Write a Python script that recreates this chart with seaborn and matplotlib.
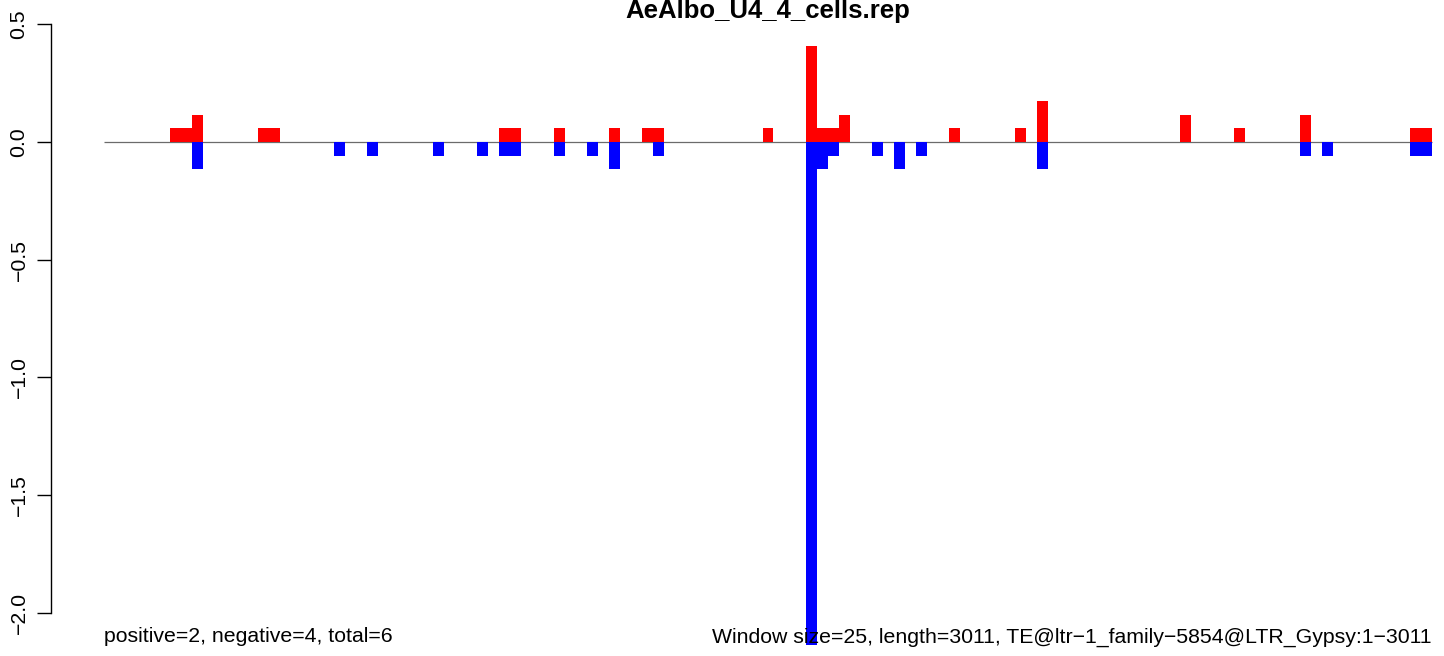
import numpy as np
import pandas as pd
import matplotlib
matplotlib.use("Agg")
import matplotlib.pyplot as plt
import seaborn as sns

title = "AeAlbo_U4_4_cells.rep"
left_note = "positive=2, negative=4, total=6"
right_note = "Window size=25, length=3011, TE@ltr\u22121_family\u22125854@LTR_Gypsy:1\u22123011"
n_bins = 121

# bin index -> value (one unit ~ 0.058)
pos_bins = [6, 7, 8, 14, 15, 36, 37, 41, 46, 49, 50, 60, 64, 65, 66, 67, 77, 83, 85, 98, 103, 109, 119, 120]
pos_vals = [0.058, 0.058, 0.116, 0.058, 0.058, 0.058, 0.058, 0.058, 0.058, 0.058, 0.058, 0.058,
            0.406, 0.058, 0.058, 0.116, 0.058, 0.058, 0.174, 0.116, 0.058, 0.116, 0.058, 0.058]
neg_bins = [8, 21, 24, 30, 34, 36, 37, 41, 44, 46, 50, 64, 65, 66, 70, 72, 74, 85, 109, 111, 119, 120]
neg_vals = [-0.116, -0.058, -0.058, -0.058, -0.058, -0.058, -0.058, -0.058, -0.058, -0.116, -0.058,
            -2.14, -0.116, -0.058, -0.058, -0.116, -0.058, -0.116, -0.058, -0.058, -0.058, -0.058]

yticks = [0.5, 0.0, -0.5, -1.0, -1.5, -2.0]

pos = np.zeros(n_bins)
neg = np.zeros(n_bins)
pos[pos_bins] = pos_vals
neg[neg_bins] = neg_vals
df = pd.DataFrame({"center": np.arange(n_bins) + 0.5, "pos": pos, "neg": neg})

sns.set_style("white")
plt.rcParams["font.family"] = ["Liberation Sans", "DejaVu Sans"]
plt.rcParams["text.color"] = "black"

W, H = 1444, 656
fig = plt.figure(figsize=(W / 100, H / 100), dpi=100)
ax_left = 50.7
ax = fig.add_axes([ax_left / W, 0, 1 - ax_left / W, 1])

x0, bw = 104.0, 10.975
y0, uy = 141.9, 235.3

ax.hlines(0, 0, n_bins, color="#6b6b6b", lw=0.9, zorder=1)
sns.barplot(data=df, x="center", y="pos", native_scale=True, width=1.0, color="#ff0000",
            saturation=1, linewidth=0, ax=ax, zorder=2)
sns.barplot(data=df, x="center", y="neg", native_scale=True, width=1.0, color="#0000ff",
            saturation=1, linewidth=0, ax=ax, zorder=2)
ax.set_xlim((ax_left - x0) / bw, (W - x0) / bw)
ax.set_ylim((y0 - H) / uy, y0 / uy)

for s in ["top", "right", "bottom"]:
    ax.spines[s].set_visible(False)
ax.spines["left"].set_bounds(-2.0, 0.5)
ax.spines["left"].set_color("black")
ax.spines["left"].set_linewidth(1.0)
ax.set_xticks([])
ax.set_yticks(yticks)
ax.set_yticklabels([f"{v:.1f}".replace("-", "\u2212") for v in yticks], rotation=90, va="center")
ax.tick_params(axis="y", length=10, width=1.0, pad=6, labelsize=15.3, left=True,
               colors="black", labelcolor="black")
ax.set_xlabel("")
ax.set_ylabel("")

ax.text(n_bins / 2, (y0 - 18) / uy, title, ha="center", va="baseline", fontsize=18.5,
        fontweight="bold", color="black")
ax.text(0, (y0 - 637) / uy, left_note, ha="left", va="center", fontsize=15.3, color="black")
ax.text(n_bins, (y0 - 637) / uy, right_note, ha="right", va="center", fontsize=15.3, color="black")

fig.savefig("out.png", dpi=100, facecolor="white")
